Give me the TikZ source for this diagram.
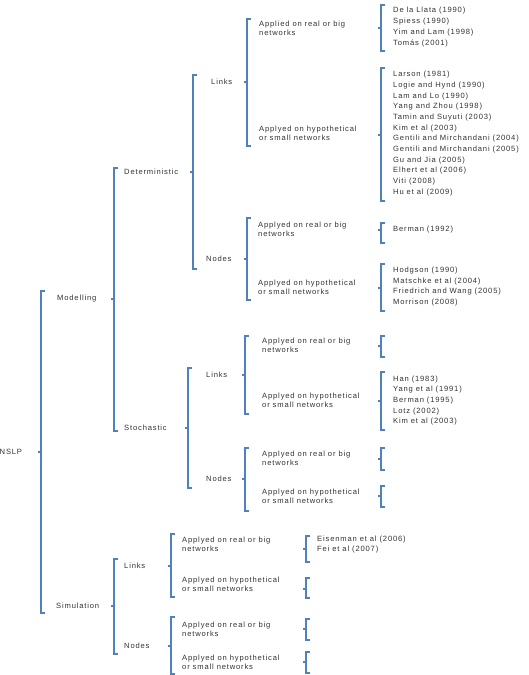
\documentclass[tikz,border=0pt]{standalone}
\usepackage{fontspec}
\newfontfamily\lblfont[LetterSpace=11]{Liberation Sans}
\definecolor{brkc}{RGB}{79,129,189}
\definecolor{txtc}{RGB}{50,50,50}
\tikzset{
  lbl/.style={anchor=west, inner sep=0pt, text=txtc, align=left, font=\lblfont\fontsize{7.6}{9}\selectfont},
  lst/.style={anchor=west, inner sep=0pt, text=txtc, align=left, font=\lblfont\fontsize{7.6}{10.7}\selectfont},
  brk/.style={draw=brkc, line width=1.3pt}
}
\newcommand\brak[4]{%
  \draw[brk] (#1+4,#2) -- (#1,#2) -- (#1,#3) -- (#1+4,#3);
  \draw[brk] (#1,#4) -- (#1-3,#4);}
\begin{document}
\begin{tikzpicture}[x=1pt,y=-1pt]
\useasboundingbox (0,0) rectangle (529,675);

% root
\node[lbl] (nslp) at (-0.5,452) {NSLP};
\brak{41}{291}{613}{452}

% Modelling
\node[lbl] (model) at (57,299) {Modelling};
\brak{114}{168}{431}{299}

% Deterministic
\node[lbl] (det) at (124,172) {Deterministic};
\brak{193}{75}{269}{172}

\node[lbl] (dlinks) at (211,82) {Links};
\brak{247}{19}{146}{82}
\node[lbl] (a1) at (259,28.5) {Applied on real or big\\networks};
\node[lbl] (a2) at (259,133.5) {Applyed on hypothetical\\or small networks};
\brak{381}{5}{51}{28}
\node[lst] (r1) at (393,27) {De la Llata (1990)\\Spiess (1990)\\Yim and Lam (1998)\\Tomás (2001)};
\brak{381}{68}{201}{135}
\node[lst] (r2) at (393,133.5) {Larson (1981)\\Logie and Hynd (1990)\\Lam and Lo (1990)\\Yang and Zhou (1998)\\Tamin and Suyuti (2003)\\Kim et al (2003)\\Gentili and Mirchandani (2004)\\Gentili and Mirchandani (2005)\\Gu and Jia (2005)\\Elhert et al (2006)\\Viti (2008)\\Hu et al (2009)};

\node[lbl] (dnodes) at (206,259) {Nodes};
\brak{247}{218}{300}{259}
\node[lbl] (a3) at (258,229.5) {Applyed on real or big\\networks};
\node[lbl] (a4) at (258,287.5) {Applyed on hypothetical\\or small networks};
\brak{381}{223}{243}{230}
\node[lst] (r3) at (393,230) {Berman (1992)};
\brak{381}{264}{311}{288}
\node[lst] (r4) at (393,286.5) {Hodgson (1990)\\Matschke et al (2004)\\Friedrich and Wang (2005)\\Morrison (2008)};

% Stochastic
\node[lbl] (sto) at (124,428) {Stochastic};
\brak{188}{368}{488}{428}

\node[lbl] (slinks) at (206,375) {Links};
\brak{245}{336}{414}{375}
\node[lbl] (a5) at (262,345.5) {Applyed on real or big\\networks};
\node[lbl] (a6) at (262,400.5) {Applyed on hypothetical\\or small networks};
\brak{381}{336}{357}{346}
\brak{381}{372}{430}{401}
\node[lst] (r6) at (393,400.5) {Han (1983)\\Yang et al (1991)\\Berman (1995)\\Lotz (2002)\\Kim et al (2003)};

\node[lbl] (snodes) at (206,479) {Nodes};
\brak{245}{448}{511}{479}
\node[lbl] (a7) at (262,458.5) {Applyed on real or big\\networks};
\node[lbl] (a8) at (262,496.5) {Applyed on hypothetical\\or small networks};
\brak{381}{448}{470}{459}
\brak{381}{486}{507}{496}

% Simulation
\node[lbl] (sim) at (56,606) {Simulation};
\brak{114}{559}{654}{606}

\node[lbl] (mlinks) at (124,566) {Links};
\brak{171}{534}{597}{566}
\node[lbl] (a9) at (182,544.5) {Applyed on real or big\\networks};
\node[lbl] (a10) at (182,584.5) {Applyed on hypothetical\\or small networks};
\brak{306}{536}{562}{549}
\node[lst] (r9) at (317,544.5) {Eisenman et al (2006)\\Fei et al (2007)};
\brak{306}{578}{598}{589}

\node[lbl] (mnodes) at (124,646) {Nodes};
\brak{171}{617}{674}{646}
\node[lbl] (a11) at (182,629.5) {Applyed on real or big\\networks};
\node[lbl] (a12) at (182,662.5) {Applyed on hypothetical\\or small networks};
\brak{306}{619}{640}{629}
\brak{306}{652}{673}{662}
\end{tikzpicture}
\end{document}
